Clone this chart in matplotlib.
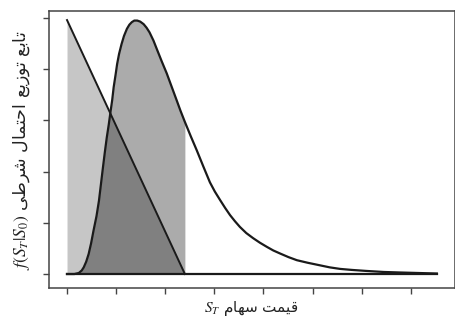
import numpy as np
import matplotlib.pyplot as plt

plt.rcParams['mathtext.fontset'] = 'stix'
plt.rcParams['font.family'] = ['DejaVu Sans']

# چگالی شرطی قیمت سهام (خوانده شده از تصویر)
curve_x = [0.0, 0.15, 0.24, 0.30, 0.34, 0.39, 0.44, 0.49, 0.54, 0.60, 0.65, 0.69,
           0.73, 0.77, 0.81, 0.85, 0.88, 0.92, 0.95, 0.99, 1.02, 1.06, 1.11, 1.16,
           1.22, 1.27, 1.32, 1.37, 1.43, 1.49, 1.56, 1.62, 1.68, 1.76, 1.83, 1.93,
           2.03, 2.13, 2.23, 2.31, 2.40, 2.52, 2.64, 2.78, 2.91, 3.01, 3.12, 3.22,
           3.32, 3.42, 3.52, 3.65, 3.79, 3.93, 4.07, 4.20, 4.34, 4.51, 4.68, 4.90,
           5.15, 5.35, 5.56, 5.80, 6.10, 6.45, 6.78, 7.15, 7.53]
curve_y = [0.0, 0.0, 0.02, 0.07, 0.13, 0.24, 0.39, 0.60, 0.85, 1.13, 1.43, 1.75,
           2.07, 2.38, 2.67, 2.92, 3.13, 3.40, 3.65, 3.90, 4.10, 4.30, 4.49, 4.65,
           4.79, 4.87, 4.92, 4.95, 4.95, 4.93, 4.88, 4.81, 4.72, 4.56, 4.39, 4.15,
           3.92, 3.66, 3.40, 3.19, 2.97, 2.69, 2.42, 2.09, 1.79, 1.61, 1.44, 1.29,
           1.15, 1.03, 0.92, 0.80, 0.70, 0.61, 0.53, 0.46, 0.40, 0.33, 0.27, 0.22,
           0.17, 0.13, 0.10, 0.08, 0.06, 0.04, 0.03, 0.02, 0.01]

# خط نزولی (دو سر خط)
line_x = [0.0, 2.40]
line_y = [4.96, 0.0]

x_ticks = [0, 1, 2, 3, 4, 5, 6, 7]
y_ticks = [0, 1, 2, 3, 4, 5]

# متن فارسی با حروف شکل‌دار و ترتیب دیداری
xlabel_fa = '\uFEE1\uFE8E\uFEEC\uFEB3 \uFE96\uFEE4\uFBFF\uFED7'
ylabel_fa = ('\uFBFD\uFEC3\uFEAE\uFEB7 \uFEDD\uFE8E\uFEE4\uFE98\uFEA3\uFE8D '
             '\uFECA\uFBFE\uFEAF\uFEEE\uFE97 \uFECA\uFE91\uFE8E\uFE97')

cx = np.array(curve_x)
cy = np.array(curve_y)
slope = (line_y[1] - line_y[0]) / (line_x[1] - line_x[0])
m = cx <= line_x[1]
sx = cx[m]
sy = cy[m]
ly = np.clip(line_y[0] + slope * (sx - line_x[0]), 0, None)

fig = plt.figure(figsize=(4.56, 3.23), dpi=100)
ax = fig.add_axes([49 / 456, 1 - 288 / 323, 406 / 456, 277 / 323])

ax.fill_between(sx, 0, ly, color='#c6c6c6', lw=0)
ax.fill_between(sx, 0, sy, color='#ababab', lw=0)
ax.fill_between(sx, 0, np.minimum(sy, ly), color='#808080', lw=0)

ax.plot([cx[0], cx[-1]], [0, 0], color='#1a1a1a', lw=1.6)
ax.plot(line_x, line_y, color='#1a1a1a', lw=1.4)
ax.plot(cx, cy, color='#1a1a1a', lw=1.6, solid_joinstyle='round')

ax.set_xlim(-0.367, 7.90)
ax.set_ylim(-0.273, 5.137)
ax.set_xticks(x_ticks)
ax.set_yticks(y_ticks)
ax.set_xticklabels([])
ax.set_yticklabels([])
ax.tick_params(direction='out', length=4, width=1, color='#444444')
for s in ax.spines.values():
    s.set_color('#444444')
    s.set_linewidth(1.1)

fig.text(251 / 456, 1 - 308 / 323, '$S_T$ ' + xlabel_fa, ha='center', va='center',
         fontsize=11, color='#222222')
fig.text(22 / 456, 1 - 150 / 323, '$f(S_T|S_0)$ ' + ylabel_fa, ha='center', va='center',
         rotation=90, fontsize=12.5, color='#222222')

fig.savefig('out.png', dpi=100)
